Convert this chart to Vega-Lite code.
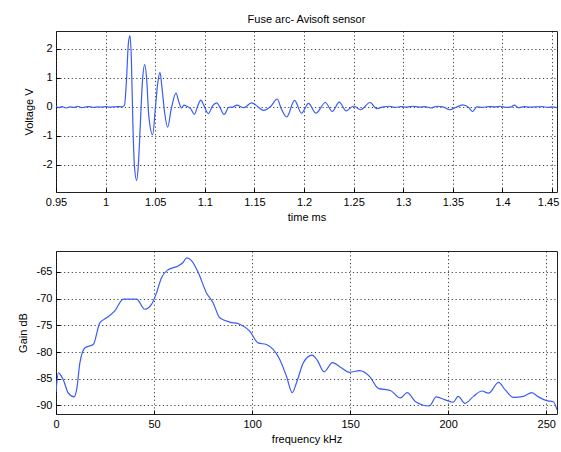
{
  "$schema": "https://vega.github.io/schema/vega-lite/v6.json",
  "background": "white",
  "padding": {"left": 16, "top": 13, "right": 0, "bottom": 0},
  "spacing": 27,
  "config": {
    "font": "Liberation Sans",
    "view": {"stroke": "#222222", "strokeWidth": 1},
    "axis": {
      "labelFont": "Liberation Sans",
      "labelFontSize": 11,
      "labelColor": "#000000",
      "titleFont": "Liberation Sans",
      "titleFontSize": 11,
      "titleFontWeight": "normal",
      "titleColor": "#000000",
      "grid": true,
      "gridColor": "#000000",
      "gridDash": [1.2, 2.6],
      "gridOpacity": 0.75,
      "gridWidth": 1,
      "domain": false,
      "ticks": true,
      "tickColor": "#000000",
      "tickSize": -4,
      "labelFlush": false,
      "labelPadding": 8
    },
    "axisY": {"titlePadding": 8},
    "axisX": {"titlePadding": 4},
    "title": {"font": "Liberation Sans", "fontSize": 11, "fontWeight": "normal", "color": "#000000", "offset": 6, "anchor": "middle"}
  },
  "vconcat": [
    {
      "title": "Fuse arc- Avisoft sensor",
      "width": 501,
      "height": 161,
      "data": {"values": [
        {"t": 0.950, "v": 0.02}, {"t": 0.953, "v": -0.03}, {"t": 0.956, "v": 0.01}, {"t": 0.960, "v": -0.04},
        {"t": 0.964, "v": 0.00}, {"t": 0.968, "v": -0.02}, {"t": 0.972, "v": 0.02}, {"t": 0.976, "v": -0.03},
        {"t": 0.980, "v": 0.00}, {"t": 0.984, "v": 0.01}, {"t": 0.988, "v": -0.02}, {"t": 0.992, "v": 0.00},
        {"t": 0.996, "v": -0.01}, {"t": 1.000, "v": 0.01}, {"t": 1.004, "v": -0.01}, {"t": 1.008, "v": 0.00},
        {"t": 1.012, "v": 0.01}, {"t": 1.016, "v": 0.00}, {"t": 1.019, "v": 0.05}, {"t": 1.021, "v": 0.9},
        {"t": 1.023, "v": 2.2}, {"t": 1.0246, "v": 2.45}, {"t": 1.026, "v": 1.6}, {"t": 1.0275, "v": -0.6},
        {"t": 1.029, "v": -2.0}, {"t": 1.0313, "v": -2.53}, {"t": 1.033, "v": -2.0}, {"t": 1.035, "v": -0.6},
        {"t": 1.037, "v": 0.8}, {"t": 1.0394, "v": 1.45}, {"t": 1.0415, "v": 0.9}, {"t": 1.0435, "v": -0.3},
        {"t": 1.0475, "v": -0.96}, {"t": 1.050, "v": -0.1}, {"t": 1.0525, "v": 0.8}, {"t": 1.0548, "v": 1.19},
        {"t": 1.057, "v": 0.6}, {"t": 1.0595, "v": -0.2}, {"t": 1.0626, "v": -0.70}, {"t": 1.066, "v": -0.1},
        {"t": 1.071, "v": 0.47}, {"t": 1.074, "v": 0.15}, {"t": 1.0765, "v": -0.04}, {"t": 1.079, "v": 0.06},
        {"t": 1.082, "v": 0.02}, {"t": 1.086, "v": -0.08}, {"t": 1.0895, "v": -0.26}, {"t": 1.093, "v": 0.05},
        {"t": 1.096, "v": 0.23}, {"t": 1.099, "v": 0.05}, {"t": 1.1035, "v": -0.23}, {"t": 1.108, "v": 0.04},
        {"t": 1.112, "v": 0.14}, {"t": 1.115, "v": 0.0}, {"t": 1.1195, "v": -0.26}, {"t": 1.124, "v": -0.02},
        {"t": 1.129, "v": 0.0}, {"t": 1.132, "v": 0.06}, {"t": 1.1395, "v": -0.03}, {"t": 1.147, "v": 0.14},
        {"t": 1.154, "v": -0.01}, {"t": 1.159, "v": -0.12}, {"t": 1.1666, "v": 0.02}, {"t": 1.173, "v": 0.27},
        {"t": 1.177, "v": -0.06}, {"t": 1.1825, "v": -0.35}, {"t": 1.1905, "v": 0.22}, {"t": 1.1975, "v": -0.22},
        {"t": 1.2045, "v": 0.12}, {"t": 1.212, "v": -0.22}, {"t": 1.2215, "v": 0.15}, {"t": 1.2285, "v": -0.16},
        {"t": 1.2355, "v": 0.16}, {"t": 1.2425, "v": -0.14}, {"t": 1.250, "v": 0.03}, {"t": 1.257, "v": -0.10},
        {"t": 1.2665, "v": 0.15}, {"t": 1.2735, "v": -0.06}, {"t": 1.280, "v": 0.00}, {"t": 1.286, "v": 0.02},
        {"t": 1.292, "v": -0.02}, {"t": 1.298, "v": 0.01}, {"t": 1.304, "v": -0.01}, {"t": 1.310, "v": 0.02},
        {"t": 1.316, "v": -0.01}, {"t": 1.322, "v": 0.01}, {"t": 1.328, "v": -0.04}, {"t": 1.334, "v": 0.02},
        {"t": 1.340, "v": 0.00}, {"t": 1.347, "v": -0.10}, {"t": 1.353, "v": -0.02}, {"t": 1.360, "v": 0.07},
        {"t": 1.366, "v": -0.02}, {"t": 1.370, "v": -0.16}, {"t": 1.374, "v": 0.0}, {"t": 1.380, "v": -0.02},
        {"t": 1.386, "v": 0.01}, {"t": 1.392, "v": 0.0}, {"t": 1.398, "v": 0.02}, {"t": 1.404, "v": -0.02},
        {"t": 1.409, "v": 0.0}, {"t": 1.412, "v": 0.06}, {"t": 1.416, "v": -0.03}, {"t": 1.422, "v": 0.01},
        {"t": 1.428, "v": -0.01}, {"t": 1.434, "v": 0.0}, {"t": 1.440, "v": 0.01}, {"t": 1.446, "v": -0.02},
        {"t": 1.450, "v": 0.0}, {"t": 1.455, "v": -0.03}
      ]},
      "mark": {"type": "line", "color": "#3a5cf5", "strokeWidth": 1.2, "interpolate": "monotone", "clip": true},
      "encoding": {
        "x": {"field": "t", "type": "quantitative",
          "scale": {"domain": [0.95, 1.455], "nice": false, "zero": false},
          "axis": {"title": "time ms", "values": [0.95, 1, 1.05, 1.1, 1.15, 1.2, 1.25, 1.3, 1.35, 1.4, 1.45], "labelExpr": "'' + datum.value",
            "labelOffset": {"condition": {"test": "datum.value == 1.45", "value": -4}, "value": 0}}},
        "y": {"field": "v", "type": "quantitative",
          "scale": {"domain": [-2.93, 2.61], "nice": false, "zero": false},
          "axis": {"title": "Voltage V", "values": [-2, -1, 0, 1, 2], "labelExpr": "'' + datum.value"}}
      }
    },
    {
      "width": 501,
      "height": 163,
      "data": {"values": [
        {"f": 0, "g": -87.5}, {"f": 1.2, "g": -83.9}, {"f": 3.7, "g": -85.2}, {"f": 6.3, "g": -87.7},
        {"f": 9.2, "g": -88.4}, {"f": 10.5, "g": -87.1}, {"f": 12.2, "g": -82.0}, {"f": 14.8, "g": -79.2},
        {"f": 19, "g": -78.6}, {"f": 22.4, "g": -74.5}, {"f": 25.8, "g": -73.6}, {"f": 30, "g": -72.3},
        {"f": 34.3, "g": -70.1}, {"f": 41.1, "g": -70.1}, {"f": 45.3, "g": -72.0}, {"f": 48.7, "g": -71.1},
        {"f": 51.3, "g": -68.9}, {"f": 53.8, "g": -66.1}, {"f": 57.2, "g": -64.6}, {"f": 62.3, "g": -63.9},
        {"f": 64.9, "g": -63.2}, {"f": 66.6, "g": -62.4}, {"f": 69.1, "g": -62.9}, {"f": 72.5, "g": -65.1},
        {"f": 76.7, "g": -68.9}, {"f": 80.1, "g": -70.8}, {"f": 83.5, "g": -73.6}, {"f": 88.6, "g": -74.4},
        {"f": 93.7, "g": -74.8}, {"f": 98.8, "g": -76.1}, {"f": 103.1, "g": -78.3}, {"f": 107.3, "g": -78.6},
        {"f": 114.1, "g": -81.4}, {"f": 117.5, "g": -84.5}, {"f": 120.5, "g": -87.6}, {"f": 122.6, "g": -85.8},
        {"f": 126.3, "g": -81.9}, {"f": 130.6, "g": -80.6}, {"f": 133.2, "g": -81.5}, {"f": 136.7, "g": -83.7},
        {"f": 141, "g": -82.0}, {"f": 145.3, "g": -82.9}, {"f": 149.7, "g": -83.8}, {"f": 154.9, "g": -83.5},
        {"f": 160, "g": -84.6}, {"f": 164.4, "g": -86.8}, {"f": 170.5, "g": -87.2}, {"f": 175.6, "g": -88.6},
        {"f": 179.1, "g": -87.6}, {"f": 183.4, "g": -89.3}, {"f": 190.4, "g": -90.1}, {"f": 193.9, "g": -88.4},
        {"f": 198.2, "g": -88.9}, {"f": 202.6, "g": -89.4}, {"f": 205.1, "g": -88.3}, {"f": 208.6, "g": -89.6},
        {"f": 212.9, "g": -88.3}, {"f": 217.2, "g": -87.3}, {"f": 220.6, "g": -87.7}, {"f": 225.7, "g": -85.7},
        {"f": 229.1, "g": -87.1}, {"f": 233.3, "g": -88.5}, {"f": 238.4, "g": -88.3}, {"f": 242.6, "g": -87.6},
        {"f": 246, "g": -88.4}, {"f": 250.2, "g": -89.1}, {"f": 253.6, "g": -89.3}, {"f": 255.5, "g": -90.8}
      ]},
      "mark": {"type": "line", "color": "#3a5cf5", "strokeWidth": 1.2, "interpolate": "monotone", "clip": true},
      "encoding": {
        "x": {"field": "f", "type": "quantitative",
          "scale": {"domain": [0, 255.5], "nice": false, "zero": false},
          "axis": {"title": "frequency kHz", "values": [0, 50, 100, 150, 200, 250], "labelExpr": "'' + datum.value"}},
        "y": {"field": "g", "type": "quantitative",
          "scale": {"domain": [-91.6, -61.1], "nice": false, "zero": false},
          "axis": {"title": "Gain dB", "values": [-90, -85, -80, -75, -70, -65], "labelExpr": "'' + datum.value"}}
      }
    }
  ]
}
